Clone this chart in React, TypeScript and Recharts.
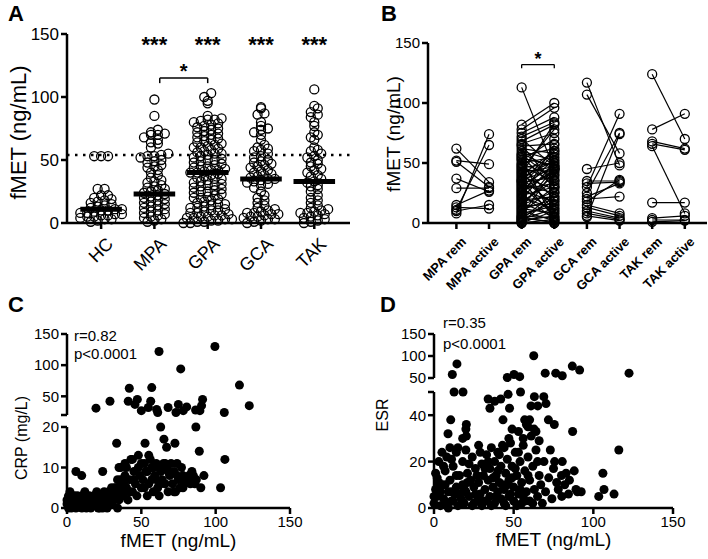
import React from 'react';
import {
  ScatterChart,
  Scatter,
  ComposedChart,
  Line,
  XAxis,
  YAxis,
  ZAxis,
  ReferenceLine,
  ReferenceDot,
} from 'recharts';

const FONT = '"Liberation Sans", Arial, sans-serif';
const INK = '#000';

// ---- panel A: fMET per group ----
const groupsA = ['HC', 'MPA', 'GPA', 'GCA', 'TAK'];
const hcVals = [53, 53, 53, 27, 27, 22, 22, 20, 19, 18, 17, 16, 15, 14, 13, 12, 11, 11, 10, 10, 9, 8, 8, 7, 7, 6, 6, 5, 5, 4, 3, 3, 2, 1];
const mpaVals = [98, 85, 74, 72, 71, 70, 70, 68, 66, 64, 63, 60, 55, 54, 53, 53, 52, 50, 49, 48, 46, 45, 44, 42, 40, 38, 36, 34, 33, 32, 30, 29, 28, 27, 26, 25, 24, 23, 22, 21, 20, 19, 18, 17, 16, 15, 14, 13, 12, 11, 10, 9, 8, 7, 6, 5, 4, 3, 2, 1];
const gpaVals = [103, 100, 97, 95, 85, 83, 82, 82, 81, 80, 79, 78, 77, 76, 75, 74, 73, 72, 71, 70, 69, 68, 67, 66, 65, 64, 63, 62, 61, 60, 60, 59, 58, 57, 56, 55, 55, 54, 53, 52, 51, 50, 50, 49, 48, 47, 46, 45, 45, 44, 43, 42, 42, 41, 40, 40, 39, 38, 37, 36, 35, 35, 34, 33, 32, 31, 30, 30, 29, 28, 27, 26, 25, 25, 24, 23, 22, 21, 20, 20, 19, 18, 17, 16, 15, 15, 14, 13, 12, 12, 11, 10, 10, 9, 8, 8, 7, 6, 6, 5, 5, 4, 4, 3, 3, 2, 2, 1, 1, 0, 0];
const gcaVals = [92, 91, 87, 86, 80, 77, 75, 74, 72, 70, 66, 62, 60, 59, 58, 57, 55, 53, 52, 50, 49, 48, 47, 46, 45, 44, 42, 41, 40, 39, 38, 37, 36, 35, 35, 34, 33, 32, 31, 30, 28, 25, 22, 20, 18, 16, 14, 12, 11, 10, 9, 8, 8, 7, 7, 6, 5, 5, 4, 3, 3, 2, 1, 0];
const takVals = [106, 93, 91, 88, 86, 84, 80, 77, 72, 70, 68, 66, 60, 58, 57, 55, 53, 52, 50, 48, 47, 45, 43, 42, 40, 38, 37, 35, 33, 32, 30, 29, 27, 25, 22, 20, 18, 16, 14, 12, 11, 10, 9, 8, 8, 7, 6, 5, 4, 3, 2, 1, 0];
const mediansA = [11, 23, 40, 35, 33];
const cutoffA = 54;
const starGroupsA = [1, 2, 3, 4];

// ---- panel B: remission vs active pairs ----
const labelsB = ['MPA rem', 'MPA active', 'GPA rem', 'GPA active', 'GCA rem', 'GCA active', 'TAK rem', 'TAK active'];
const mpaPairs = [[62, 34], [52, 49], [51, 30], [37, 26], [29, 29], [15, 27], [13, 12], [10, 15], [8, 74], [11, 65]];
const gpaPairs = [[113, 45], [82, 100], [78, 96], [72, 84], [68, 82], [66, 75], [64, 66], [62, 58], [60, 52], [58, 45], [56, 62], [55, 30], [54, 48], [52, 70], [50, 55], [49, 40], [48, 20], [47, 35], [46, 50], [45, 78], [44, 43], [43, 10], [42, 47], [40, 60], [39, 28], [38, 52], [37, 15], [36, 45], [35, 5], [34, 38], [33, 57], [32, 25], [31, 48], [30, 8], [29, 42], [28, 33], [27, 18], [26, 54], [25, 45], [24, 3], [23, 30], [22, 65], [21, 12], [20, 50], [19, 22], [18, 35], [17, 5], [16, 40], [15, 26], [14, 16], [13, 46], [12, 8], [11, 20], [10, 2], [9, 30], [8, 14], [7, 44], [6, 4], [5, 18], [4, 1], [3, 25], [2, 6], [1, 0], [0, 3], [0, 10], [1, 22], [3, 12], [5, 0], [65, 32], [70, 47], [75, 88], [57, 36], [53, 2], [41, 83], [35, 60]];
const gcaPairs = [[117, 48], [107, 58], [45, 50], [35, 35], [33, 34], [30, 91], [25, 75], [22, 33], [20, 22], [18, 36], [15, 8], [13, 6], [10, 4], [8, 3], [6, 2], [5, 74]];
const takPairs = [[124, 70], [78, 91], [68, 62], [66, 61], [64, 8], [17, 17], [4, 6], [2.5, 2.5], [1, 2]];

// ---- panel C: fMET vs CRP ----
const crpPoints = [
  [61.9, 122], [99.5, 130], [76.5, 94], [116, 68], [41.9, 63], [57, 64], [28.9, 42], [19.5, 31], [41.2, 42], [47.3, 45], [45.7, 37], [50, 27], [54.7, 32], [56.3, 42], [60.3, 29], [61, 24], [68, 32], [74.9, 37], [80.5, 33], [73.3, 24], [78.2, 27], [86.5, 28], [91.2, 45], [90.5, 35], [89.4, 27], [105.8, 24], [122.6, 35],
  [63, 20], [86.7, 20], [33.4, 16], [52.5, 16], [65.2, 17], [67, 15], [72.6, 16], [89, 14], [106.2, 12], [103.3, 5], [92.1, 8], [6, 9], [9.9, 8], [24, 9],
  [0, 1], [0, 2], [1, 0], [1, 3], [2, 1], [3, 2], [3, 0], [4, 1], [5, 2], [5, 3], [6, 0], [7, 1], [8, 2], [9, 1], [10, 0], [10, 3], [11, 2], [12, 1], [13, 0], [14, 2], [15, 1], [15, 3],
  [16, 0], [17, 2], [18, 1], [19, 3], [20, 2], [21, 0], [22, 1], [23, 3], [24, 2], [25, 4], [26, 1], [27, 0], [28, 2], [29, 3], [30, 1], [31, 4], [32, 2], [33, 3], [34, 0], [35, 2], [20, 4], [24, 0], [28, 4], [32, 5],
  [33, 5], [34, 7], [35, 10], [36, 4], [37, 6], [38, 3], [39, 8], [40, 5], [41, 2], [42, 7], [43, 12], [44, 4], [45, 9], [46, 6], [47, 3], [48, 10], [49, 8], [50, 5], [36, 10], [40, 10], [44, 12], [48, 13], [38, 6], [42, 4],
  [51, 7], [52, 11], [53, 9], [54, 3], [55, 6], [56, 12], [57, 10], [58, 4], [59, 8], [60, 11], [61, 5], [62, 3], [63, 9], [64, 7], [65, 11], [66, 6], [67, 10], [68, 4], [69, 8], [70, 11], [55, 13], [58, 10], [62, 10], [66, 11], [52, 5], [60, 7],
  [71, 6], [72, 9], [73, 4], [74, 11], [75, 7], [76, 5], [77, 10], [78, 8], [80, 7], [82, 8], [83, 6], [84, 7], [85, 8], [86, 6], [87, 7], [90, 5], [74, 8], [78, 5],
  [2, 4], [7, 3], [12, 4], [18, 3], [22, 0], [26, 3], [30, 5], [36, 7], [45, 7], [50, 11], [54, 9], [57, 7], [63, 6], [68, 9], [72, 4], [79, 6], [84, 9], [39, 11],
];

// ---- panel D: fMET vs ESR ----
const esrPoints = [
  [62.6, 100.7], [14.4, 82], [11.5, 58], [46, 51], [50.2, 58], [53.8, 53], [69.8, 61], [76.4, 61], [80.5, 55], [86.8, 77], [91.4, 68], [122.4, 61],
  [12.6, 50], [18.2, 50], [46.5, 49], [54.3, 50], [34, 47], [38.1, 46], [41.9, 47], [35.1, 43], [47.4, 43], [63, 48], [60.9, 44], [65.1, 44], [68.9, 48], [70.3, 45], [43.3, 38], [10.5, 38], [8.8, 32], [20.3, 36], [20.3, 31], [71.8, 38], [75.5, 36], [87, 33], [116, 25], [49, 34], [56.9, 38], [59, 35], [62.8, 34], [92.4, 7], [106, 15], [106.7, 8], [103.4, 5], [113, 6], [82.9, 15], [89.1, 8], [80.2, 5], [84.4, 6], [75.7, 20], [80.5, 20],
  [0, 2], [1, 8], [2, 13], [2, 5], [3, 20], [4, 1], [5, 24], [5, 10], [6, 4], [7, 16], [8, 2], [8, 22], [9, 7], [10, 12], [10, 26], [11, 3], [12, 18], [13, 6], [14, 9], [15, 26], [15, 1], [16, 14], [17, 4], [18, 20], [18, 10], [19, 2], [20, 7], [20, 25], [21, 15], [22, 5], [23, 12], [24, 1], [24, 22], [25, 9], [26, 17], [27, 3], [28, 11], [28, 27], [29, 6], [30, 19], [30, 1], [31, 14], [32, 8], [33, 23], [33, 3], [34, 12], [35, 17], [35, 5], [36, 26], [37, 9], [38, 2], [38, 20], [39, 14], [40, 7], [40, 24], [41, 11], [42, 4], [42, 18], [43, 27], [44, 8], [45, 15], [45, 1], [46, 21], [47, 12], [47, 5], [48, 28], [49, 18], [50, 9], [50, 3], [51, 24], [52, 14], [53, 6], [54, 20], [55, 11], [55, 2], [56, 27], [57, 16], [58, 7], [59, 22], [60, 3], [60, 12], [61, 31], [62, 18], [63, 8], [64, 25], [65, 5], [66, 14], [67, 10], [68, 2], [69, 20], [70, 7], [72, 13], [73, 25], [74, 4], [75, 17], [77, 11], [78, 8], [80, 14], [82, 10], [85, 12], [88, 16], [90, 7],
  [0, 5], [3, 11], [6, 18], [9, 0], [12, 3], [14, 14], [19, 8], [22, 19], [26, 6], [29, 24], [31, 3], [34, 20], [36, 1], [39, 5], [41, 23], [44, 2], [46, 10], [49, 13], [52, 1], [54, 8], [57, 3], [59, 14], [62, 2], [65, 20], [66, 29], [64, 33], [58, 36], [56, 30], [53, 33], [60, 38], [47, 30], [44, 26], [18, 30], [20, 34], [14, 24], [11, 21],
  [1, 15], [4, 7], [7, 10], [11, 7], [16, 6], [21, 11], [25, 2], [27, 14], [32, 17], [37, 13], [40, 16], [43, 10], [48, 6], [51, 17], [53, 24], [56, 5],
];

// broken y axes: lower part linear, upper part compressed
const crpT = (v: number) => (v <= 20 ? v * 4.05 : 93 + (v - 20) * 0.6231);
const esrT = (v: number) => (v <= 50 ? v * 2.32 : 130 + (v - 50) * 0.44);
const crpTicks = [0, 10, 20, 20, 50, 100, 150];
const crpTickLabels = ['0', '10', '20', '', '50', '100', '150'];
const esrTicks = [0, 20, 40, 50, 50, 100, 150];
const esrTickLabels = ['0', '20', '40', '', '50', '100', '150'];

// simple row-based swarm layout (no randomness)
function swarm(vals: number[], cx: number, bin: number, step: number) {
  const rows = new Map<number, number[]>();
  [...vals].sort((a, b) => a - b).forEach((v) => {
    const k = Math.floor(v / bin);
    if (!rows.has(k)) rows.set(k, []);
    rows.get(k)!.push(v);
  });
  const out: { x: number; y: number }[] = [];
  rows.forEach((row) => row.forEach((v, i) => out.push({ x: cx + (i - (row.length - 1) / 2) * step, y: v })));
  return out;
}

const pointsA = [hcVals, mpaVals, gpaVals, gcaVals, takVals].flatMap((vals, i) => swarm(vals, i, 4, 0.13));
const pairLinesB = [mpaPairs, gpaPairs, gcaPairs, takPairs].flatMap((pairs, g) =>
  pairs.map(([rem, act]) => [{ x: g * 2, y: rem }, { x: g * 2 + 1, y: act }])
);
const crpData = crpPoints.map(([x, y]) => ({ x, y: crpT(y) }));
const esrData = esrPoints.map(([x, y]) => ({ x, y: esrT(y) }));

const axisStroke = { stroke: INK, strokeWidth: 2.5 };

// rotated category label; end of text tucked under the tick
function SlantTick(props: any) {
  const { x, y, payload, names, size, weight } = props;
  return (
    <g transform={`translate(${x + 4},${y + 5}) rotate(-45)`}>
      <text x={0} y={0} dy={size * 0.72} textAnchor="end" fontFamily={FONT} fontSize={size} fontWeight={weight} fill={INK}>
        {names[Math.round(payload.value)]}
      </text>
    </g>
  );
}

const panelLetter = (letter: string, left: number, top: number) => (
  <div style={{ position: 'absolute', left, top, fontSize: 22, fontWeight: 'bold', lineHeight: '23px' }}>{letter}</div>
);

export default function App() {
  return (
    <div style={{ position: 'absolute', left: 0, top: 0, width: 708, height: 559, background: '#fff', fontFamily: FONT, color: INK }}>
      {panelLetter('A', 8, 2)}
      {panelLetter('B', 381, 2)}
      {panelLetter('C', 8, 293)}
      {panelLetter('D', 380, 293)}

      {/* A */}
      <div style={{ position: 'absolute', left: 0, top: 0 }}>
        <ScatterChart width={360} height={290} margin={{ top: 34, right: 10, bottom: 0, left: 0 }}>
          <XAxis
            type="number"
            dataKey="x"
            domain={[-0.64, 4.67]}
            ticks={[0, 1, 2, 3, 4]}
            interval={0}
            allowDataOverflow
            height={67}
            axisLine={axisStroke}
            tickLine={axisStroke}
            tick={<SlantTick names={groupsA} size={18} weight="normal" />}
          />
          <YAxis
            type="number"
            dataKey="y"
            domain={[0, 150]}
            ticks={[0, 50, 100, 150]}
            width={67}
            axisLine={axisStroke}
            tickLine={axisStroke}
            tick={{ fill: INK, fontSize: 17 }}
            label={{ value: 'fMET (ng/mL)', angle: -90, position: 'center', dx: -15, dy: 4, fill: INK, fontSize: 22 }}
          />
          <ZAxis range={[64, 64]} />
          <ReferenceLine y={cutoffA} stroke={INK} strokeWidth={2.5} strokeDasharray="2.5 5.5" />
          <Scatter data={pointsA} fill="none" stroke={INK} strokeWidth={1.3} isAnimationActive={false} />
          {mediansA.map((m, i) => (
            <ReferenceLine key={'med' + i} segment={[{ x: i - 0.39, y: m }, { x: i + 0.39, y: m }]} stroke={INK} strokeWidth={5} />
          ))}
          {starGroupsA.map((g) => (
            <ReferenceDot key={'s' + g} x={g} y={142} r={0} fill="none" stroke="none" label={{ value: '***', position: 'center', fill: INK, fontSize: 22, fontWeight: 'bold' }} />
          ))}
          <ReferenceLine segment={[{ x: 1.1, y: 115 }, { x: 2, y: 115 }]} stroke={INK} strokeWidth={1.5} />
          <ReferenceLine segment={[{ x: 1.1, y: 115 }, { x: 1.1, y: 111 }]} stroke={INK} strokeWidth={1.5} />
          <ReferenceLine segment={[{ x: 2, y: 115 }, { x: 2, y: 111 }]} stroke={INK} strokeWidth={1.5} />
          <ReferenceDot x={1.55} y={121} r={0} fill="none" stroke="none" label={{ value: '*', position: 'center', fill: INK, fontSize: 20, fontWeight: 'bold' }} />
        </ScatterChart>
      </div>

      {/* B */}
      <div style={{ position: 'absolute', left: 360, top: 0 }}>
        <ComposedChart width={348} height={305} margin={{ top: 43, right: 1, bottom: 0, left: 0 }}>
          <XAxis
            type="number"
            dataKey="x"
            domain={[-0.87, 7.68]}
            ticks={[0, 1, 2, 3, 4, 5, 6, 7]}
            interval={0}
            allowDataOverflow
            height={82}
            axisLine={axisStroke}
            tickLine={axisStroke}
            tick={<SlantTick names={labelsB} size={13} weight="bold" />}
          />
          <YAxis
            type="number"
            domain={[0, 150]}
            ticks={[0, 50, 100, 150]}
            width={68}
            axisLine={axisStroke}
            tickLine={axisStroke}
            tick={{ fill: INK, fontSize: 15 }}
            label={{ value: 'fMET (ng/mL)', angle: -90, position: 'center', dx: -1, dy: 1, fill: INK, fontSize: 19 }}
          />
          {pairLinesB.map((pts, i) => (
            <Line
              key={'p' + i}
              data={pts}
              dataKey="y"
              stroke={INK}
              strokeWidth={1.2}
              dot={{ r: 4.5, fill: 'none', stroke: INK, strokeWidth: 1.3 }}
              activeDot={false}
              isAnimationActive={false}
            />
          ))}
          <ReferenceLine segment={[{ x: 2, y: 132 }, { x: 3, y: 132 }]} stroke={INK} strokeWidth={1.3} />
          <ReferenceLine segment={[{ x: 2, y: 132 }, { x: 2, y: 129 }]} stroke={INK} strokeWidth={1.3} />
          <ReferenceLine segment={[{ x: 3, y: 132 }, { x: 3, y: 129 }]} stroke={INK} strokeWidth={1.3} />
          <ReferenceDot x={2.5} y={137} r={0} fill="none" stroke="none" label={{ value: '*', position: 'center', fill: INK, fontSize: 18, fontWeight: 'bold' }} />
        </ComposedChart>
      </div>

      {/* C */}
      <div style={{ position: 'absolute', left: 0, top: 290 }}>
        <ScatterChart width={360} height={269} margin={{ top: 44, right: 70, bottom: 0, left: 0 }}>
          <XAxis
            type="number"
            dataKey="x"
            domain={[0, 150]}
            ticks={[0, 50, 100, 150]}
            height={51}
            axisLine={axisStroke}
            tickLine={axisStroke}
            tick={{ fill: INK, fontSize: 15 }}
          />
          <YAxis
            type="number"
            dataKey="y"
            domain={[0, crpT(150)]}
            ticks={crpTicks.map((v, i) => (i === 3 ? 93 : crpT(v)))}
            tickFormatter={(_v, i) => crpTickLabels[i]}
            interval={0}
            width={67}
            axisLine={false}
            tickLine={axisStroke}
            tick={{ fill: INK, fontSize: 15 }}
            label={{ value: 'CRP (mg/L)', angle: -90, position: 'center', dx: -12, dy: 17, fill: INK, fontSize: 16 }}
          />
          <ZAxis range={[80, 80]} />
          <ReferenceLine segment={[{ x: 0, y: 0 }, { x: 0, y: crpT(20) }]} stroke={INK} strokeWidth={2.5} />
          <ReferenceLine segment={[{ x: 0, y: 93 }, { x: 0, y: crpT(150) }]} stroke={INK} strokeWidth={2.5} />
          <Scatter data={crpData} fill={INK} isAnimationActive={false} />
        </ScatterChart>
      </div>
      <div style={{ position: 'absolute', left: 74, top: 327, fontSize: 15, lineHeight: '18px' }}>
        r=0.82<br />p&lt;0.0001
      </div>
      <div style={{ position: 'absolute', left: 67, width: 223, top: 531, fontSize: 19, lineHeight: '19px', textAlign: 'center' }}>
        fMET (ng/mL)
      </div>

      {/* D */}
      <div style={{ position: 'absolute', left: 360, top: 290 }}>
        <ScatterChart width={348} height={269} margin={{ top: 44, right: 35, bottom: 0, left: 0 }}>
          <XAxis
            type="number"
            dataKey="x"
            domain={[0, 150]}
            ticks={[0, 50, 100, 150]}
            height={51}
            axisLine={axisStroke}
            tickLine={axisStroke}
            tick={{ fill: INK, fontSize: 15 }}
          />
          <YAxis
            type="number"
            dataKey="y"
            domain={[0, esrT(150)]}
            ticks={esrTicks.map((v, i) => (i === 4 ? 130 : esrT(v)))}
            tickFormatter={(_v, i) => esrTickLabels[i]}
            interval={0}
            width={74}
            axisLine={false}
            tickLine={axisStroke}
            tick={{ fill: INK, fontSize: 15 }}
            label={{ value: 'ESR', angle: -90, position: 'center', dx: -15, dy: -6, fill: INK, fontSize: 16 }}
          />
          <ZAxis range={[80, 80]} />
          <ReferenceLine segment={[{ x: 0, y: 0 }, { x: 0, y: esrT(50) }]} stroke={INK} strokeWidth={2.5} />
          <ReferenceLine segment={[{ x: 0, y: 130 }, { x: 0, y: esrT(150) }]} stroke={INK} strokeWidth={2.5} />
          <Scatter data={esrData} fill={INK} isAnimationActive={false} />
        </ScatterChart>
      </div>
      <div style={{ position: 'absolute', left: 443, top: 312, fontSize: 15, lineHeight: '21px' }}>
        r=0.35<br />p&lt;0.0001
      </div>
      <div style={{ position: 'absolute', left: 434, width: 239, top: 530, fontSize: 19, lineHeight: '19px', textAlign: 'center' }}>
        fMET (ng/mL)
      </div>
    </div>
  );
}
